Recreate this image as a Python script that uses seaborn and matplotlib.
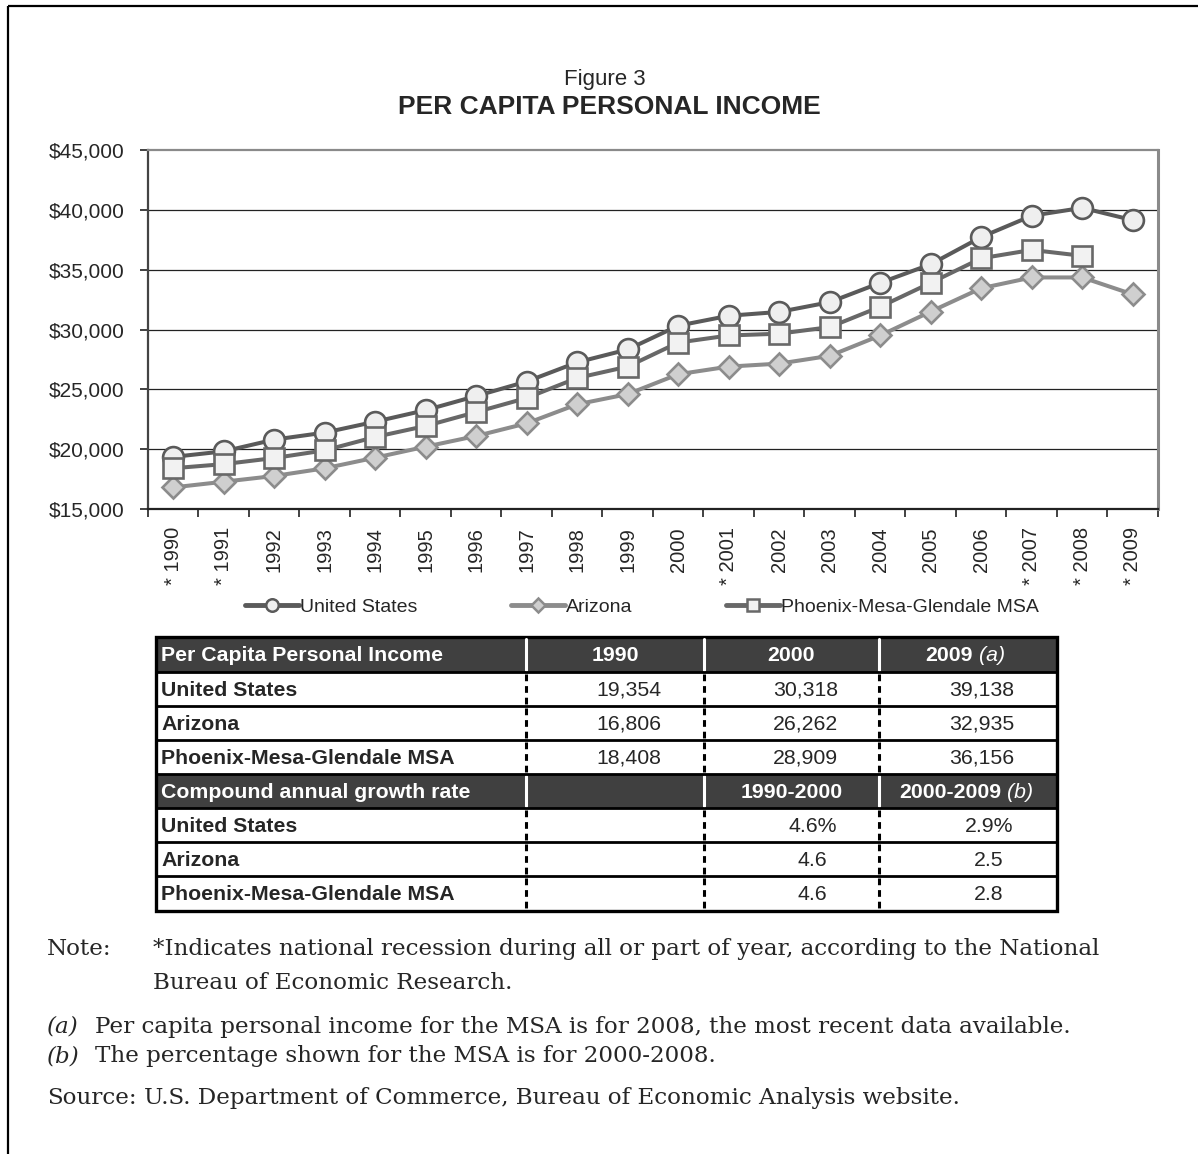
import numpy as np
import pandas as pd
import matplotlib
matplotlib.use("Agg")
import matplotlib.pyplot as plt
from matplotlib.lines import Line2D
from matplotlib.patches import Rectangle
import seaborn as sns

sns.set_theme(style="white")
plt.rcParams["font.family"] = ["Liberation Sans", "DejaVu Sans"]

# ---- data -------------------------------------------------------------
years = list(range(1990, 2010))
recession_years = [1990, 1991, 2001, 2007, 2008, 2009]
us_income = [19354, 19818, 20799, 21385, 22297, 23262, 24442, 25654, 27258, 28333,
             30318, 31149, 31470, 32284, 33899, 35452, 37725, 39506, 40166, 39138]
az_income = [16806, 17280, 17760, 18400, 19290, 20210, 21100, 22160, 23750, 24600,
             26262, 26900, 27150, 27800, 29500, 31500, 33450, 34350, 34350, 32935]
msa_income = [18408, 18750, 19260, 19900, 21020, 21940, 23100, 24280, 25950, 26900,
              28909, 29500, 29650, 30200, 31900, 33900, 35950, 36650, 36156, np.nan]
series_names = ["United States", "Arizona", "Phoenix-Mesa-Glendale MSA"]
y_ticks = [15000, 20000, 25000, 30000, 35000, 40000, 45000]

table_cols_income = ["1990", "2000", "2009"]
table_income = [["19,354", "30,318", "39,138"],
                ["16,806", "26,262", "32,935"],
                ["18,408", "28,909", "36,156"]]
table_cols_growth = ["1990-2000", "2000-2009"]
table_growth = [["4.6%", "2.9%"],
                ["4.6", "2.5"],
                ["4.6", "2.8"]]

df = pd.DataFrame({"year": years * 3,
                   "income": us_income + az_income + msa_income,
                   "series": [s for s in series_names for _ in years]})

# ---- figure -----------------------------------------------------------
W, H = 1198, 1154
fig = plt.figure(figsize=(W / 100, H / 100), dpi=100)
fig.patch.set_facecolor("white")

ax = fig.add_axes([148 / W, 1 - 509 / H, 1010 / W, 359 / H])

styles = {
    "United States": dict(color="#5a5a5a", marker="o", markersize=15,
                          markerfacecolor="#efefef", markeredgecolor="#5a5a5a"),
    "Arizona": dict(color="#8c8c8c", marker="D", markersize=11,
                    markerfacecolor="#cfcfcf", markeredgecolor="#8c8c8c"),
    "Phoenix-Mesa-Glendale MSA": dict(color="#686868", marker="s", markersize=15,
                                      markerfacecolor="#f2f2f2", markeredgecolor="#686868"),
}
for name in series_names:
    sub = df[df["series"] == name].dropna()
    sns.lineplot(data=sub, x="year", y="income", ax=ax, linewidth=2.9,
                 markeredgewidth=1.9, label=name, legend=False, **styles[name])

ax.set_xlim(years[0] - 0.5, years[-1] + 0.5)
ax.set_ylim(y_ticks[0], y_ticks[-1])
ax.set_xlabel("")
ax.set_ylabel("")

ax.set_yticks(y_ticks)
ax.set_yticklabels([f"${v:,.0f}" for v in y_ticks], fontsize=15)
ax.tick_params(axis="y", which="major", direction="out", length=6, width=1.3,
               color="#333333", pad=11, left=True)
for v in y_ticks[1:-1]:
    ax.axhline(v, color="#222222", linewidth=0.9, zorder=0)

ax.set_xticks(years)
ax.set_xticklabels([("* " if y in recession_years else "") + str(y) for y in years],
                   rotation=90, va="top", ha="center", fontsize=14.5)
ax.set_xticks(np.arange(years[0] - 0.5, years[-1] + 1.0, 1.0), minor=True)
ax.tick_params(axis="x", which="major", length=0, pad=13, bottom=True)
ax.tick_params(axis="x", which="minor", direction="out", length=6, width=1.3,
               color="#333333", bottom=True)

ax.spines["left"].set_color("#444444")
ax.spines["left"].set_linewidth(1.6)
ax.spines["bottom"].set_color("#222222")
ax.spines["bottom"].set_linewidth(1.6)
ax.spines["top"].set_color("#8a8a8a")
ax.spines["top"].set_linewidth(1.6)
ax.spines["right"].set_color("#8a8a8a")
ax.spines["right"].set_linewidth(2.2)

# legend below the axis labels
handles = [Line2D([], [], linewidth=3.5, markeredgewidth=1.8,
                  **{**styles[n], "markersize": 9 if styles[n]["marker"] != "D" else 7.5})
           for n in series_names]
fig.legend(handles, series_names, loc="center", bbox_to_anchor=(642 / W, 1 - 607 / H),
           ncol=3, frameon=False, fontsize=14, handlelength=2.8, handletextpad=0.05,
           columnspacing=4.8)

# ---- overlay in pixel coordinates: titles, table, notes ----------------
ov = fig.add_axes([0, 0, 1, 1], zorder=-1)
ov.set_xlim(0, W)
ov.set_ylim(H, 0)
ov.axis("off")

# page frame (top and left edges)
ov.plot([8, W], [6, 6], color="black", linewidth=1.6, solid_capstyle="butt")
ov.plot([8, 8], [6, H], color="black", linewidth=1.6, solid_capstyle="butt")

ov.text(605, 80, "Figure 3", ha="center", va="center", fontsize=16)
ov.text(609, 107, "PER CAPITA PERSONAL INCOME", ha="center", va="center",
        fontsize=19, fontweight="bold")

# table
col_x = [156, 526, 704, 879, 1057]
row_y = [637, 672, 706, 740, 774, 808, 842, 876, 911]
header_rows = [0, 4]
dark = "#404040"
fs_tab = 15.3

for r in header_rows:
    ov.add_patch(Rectangle((col_x[0], row_y[r]), col_x[-1] - col_x[0],
                           row_y[r + 1] - row_y[r], facecolor=dark, edgecolor="none"))
    for cx in col_x[1:-1]:
        ov.plot([cx, cx], [row_y[r] + 2, row_y[r + 1] - 2], color="white", linewidth=2.2)

for r in range(len(row_y) - 1):
    if r in header_rows:
        continue
    for cx in col_x[1:-1]:
        ov.plot([cx, cx], [row_y[r] + 2, row_y[r + 1] - 2], color="black", linewidth=2.2,
                linestyle=(0, (2.2, 1.6)))

for yy in row_y[1:-1]:
    ov.plot([col_x[0], col_x[-1]], [yy, yy], color="black", linewidth=2.0)
ov.add_patch(Rectangle((col_x[0], row_y[0]), col_x[-1] - col_x[0], row_y[-1] - row_y[0],
                       facecolor="none", edgecolor="black", linewidth=2.4))


def row_center(r):
    return (row_y[r] + row_y[r + 1]) / 2 + 1


def col_center(c):
    return (col_x[c] + col_x[c + 1]) / 2


# header 1
ov.text(161, row_center(0), "Per Capita Personal Income", color="white", fontweight="bold",
        fontsize=fs_tab, va="center", ha="left")
ov.text(col_center(1), row_center(0), table_cols_income[0], color="white", fontweight="bold",
        fontsize=fs_tab, va="center", ha="center")
ov.text(col_center(2), row_center(0), table_cols_income[1], color="white", fontweight="bold",
        fontsize=fs_tab, va="center", ha="center")
ov.text(973, row_center(0), table_cols_income[2], color="white", fontweight="bold",
        fontsize=fs_tab, va="center", ha="right")
ov.text(979, row_center(0), "(a)", color="white", fontstyle="italic",
        fontsize=fs_tab, va="center", ha="left")

# header 2
ov.text(161, row_center(4), "Compound annual growth rate", color="white", fontweight="bold",
        fontsize=fs_tab, va="center", ha="left")
ov.text(col_center(2), row_center(4), table_cols_growth[0], color="white", fontweight="bold",
        fontsize=fs_tab, va="center", ha="center")
ov.text(1001, row_center(4), table_cols_growth[1], color="white", fontweight="bold",
        fontsize=fs_tab, va="center", ha="right")
ov.text(1007, row_center(4), "(b)", color="white", fontstyle="italic",
        fontsize=fs_tab, va="center", ha="left")

for i, name in enumerate(series_names):
    r = 1 + i
    ov.text(161, row_center(r), name, fontweight="bold", fontsize=fs_tab, va="center", ha="left")
    for c, val in enumerate(table_income[i]):
        ov.text(col_center(c + 1) + 14, row_center(r), val, fontsize=fs_tab,
                va="center", ha="center")
    r = 5 + i
    ov.text(161, row_center(r), name, fontweight="bold", fontsize=fs_tab, va="center", ha="left")
    for c, val in enumerate(table_growth[i]):
        ov.text(col_center(c + 2) + 21, row_center(r), val, fontsize=fs_tab,
                va="center", ha="center")

# notes
serif = ["DejaVu Serif"]
fs_note = 16.6
ov.text(47, 955, "Note:", family=serif, fontsize=fs_note, va="baseline")
ov.text(153, 955, "*Indicates national recession during all or part of year, according to the National",
        family=serif, fontsize=fs_note, va="baseline")
ov.text(153, 989, "Bureau of Economic Research.", family=serif, fontsize=fs_note, va="baseline")
ov.text(47, 1033, "(a)", family=serif, fontsize=fs_note, fontstyle="italic", va="baseline")
ov.text(95, 1033, "Per capita personal income for the MSA is for 2008, the most recent data available.",
        family=serif, fontsize=fs_note, va="baseline")
ov.text(47, 1062, "(b)", family=serif, fontsize=fs_note, fontstyle="italic", va="baseline")
ov.text(95, 1062, "The percentage shown for the MSA is for 2000-2008.",
        family=serif, fontsize=fs_note, va="baseline")
ov.text(47, 1104, "Source:", family=serif, fontsize=fs_note, va="baseline")
ov.text(144, 1104, "U.S. Department of Commerce, Bureau of Economic Analysis website.",
        family=serif, fontsize=fs_note, va="baseline")

fig.savefig("out.png", dpi=100, facecolor="white")
